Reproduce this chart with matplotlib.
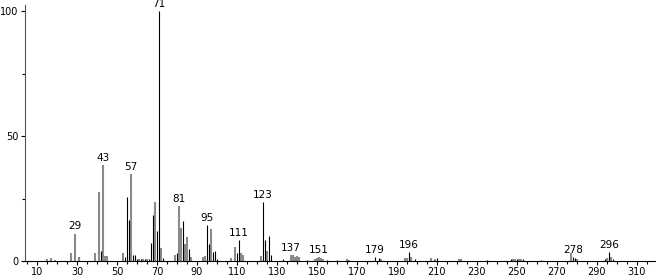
import numpy as np
import matplotlib
matplotlib.use('Agg')
import matplotlib.pyplot as plt
from matplotlib.ticker import MultipleLocator

# peaks drawn as thin black lines (m/z, relative intensity %)
black_mz = [42, 54, 55, 56, 58, 59, 60, 62, 64, 66, 67, 68, 70, 71, 73, 80, 83, 86,
            95, 96, 98, 99, 100, 110, 111, 123, 124, 126, 127, 133, 145, 155, 160,
            179, 181, 196, 199, 210, 235, 247, 250, 253, 262, 278, 279, 294, 296, 298]
black_int = [4.0, 1.5, 25.7, 16.3, 2.5, 2.5, 0.8, 0.7, 0.8, 0.9, 7.4, 18.6, 12.0, 100, 1.0, 3.0, 16.0, 5.0,
             14.5, 6.7, 3.5, 4.0, 0.8, 3.0, 8.4, 23.7, 8.3, 9.9, 2.5, 0.6, 0.5, 0.5, 0.5,
             1.5, 1.2, 3.5, 0.7, 1.0, 0.5, 0.7, 0.8, 0.8, 0.5, 1.5, 1.0, 0.6, 3.5, 0.6]

# peaks drawn as wider grey lines
gray_mz = [15, 17, 19, 27, 29, 31, 39, 41, 43, 44, 45, 53, 57, 61, 63, 65, 69, 72, 79,
           81, 82, 84, 85, 87, 93, 94, 97, 107, 109, 112, 113, 122, 125, 137, 138, 139,
           140, 141, 149, 150, 151, 152, 153, 165, 166, 182, 194, 195, 197, 207, 209,
           221, 222, 248, 249, 251, 252, 277, 280, 295, 297]
gray_int = [0.7, 1.0, 0.5, 3.2, 11.0, 1.5, 3.0, 27.5, 38.5, 1.9, 1.8, 3.3, 34.8, 0.8, 0.7, 0.8, 23.7, 5.3, 2.5,
            22.0, 13.2, 6.7, 9.5, 1.5, 1.5, 2.0, 12.7, 1.0, 5.6, 3.0, 2.5, 2.0, 4.0, 2.5, 2.3, 1.5,
            2.0, 1.5, 0.8, 1.0, 1.5, 1.0, 0.6, 0.7, 0.5, 0.6, 1.3, 1.0, 1.5, 1.0, 0.6,
            0.8, 0.6, 0.8, 0.6, 0.7, 0.6, 3.0, 0.6, 1.0, 1.5]

# labelled peaks
label_mz = [29, 43, 57, 71, 81, 95, 111, 123, 137, 151, 179, 196, 278, 296]
label_int = [11.0, 38.5, 34.8, 100, 22.0, 14.5, 8.4, 23.7, 2.5, 1.5, 1.5, 3.5, 1.5, 3.5]

fig = plt.figure(figsize=(6.56, 2.77), dpi=100)
ax = fig.add_axes([0.0381, 0.0578, 0.9619, 0.924])

ax.vlines(gray_mz, 0, gray_int, color='#8a8a8a', lw=1.5)
ax.vlines(black_mz, 0, black_int, color='black', lw=0.8)

for mz, h in zip(label_mz, label_int):
    ax.annotate(str(mz), (mz, h), xytext=(0, 1.5), textcoords='offset points',
                ha='center', va='bottom', fontsize=7.5, color='black',
                annotation_clip=False)

ax.set_xlim(4, 319.5)
ax.set_ylim(0, 102.5)
ax.set_xticks(np.arange(10, 320, 20))
ax.xaxis.set_minor_locator(MultipleLocator(5))
ax.set_yticks([0, 50, 100])
ax.yaxis.set_minor_locator(MultipleLocator(25))
ax.tick_params(axis='both', which='major', labelsize=7, length=3, width=0.8, pad=1.5)
ax.tick_params(axis='both', which='minor', length=2, width=0.8)
for s in ['top', 'right']:
    ax.spines[s].set_visible(False)
ax.spines['left'].set_color('#555555')
ax.spines['bottom'].set_color('black')

fig.savefig('out.png', dpi=100)
